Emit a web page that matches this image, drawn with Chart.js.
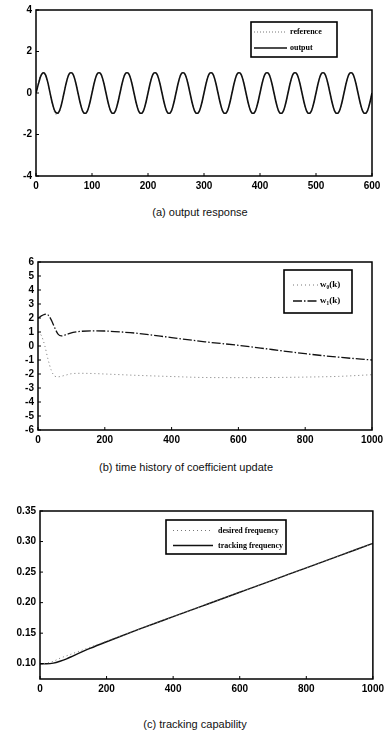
<!DOCTYPE html>
<html>
<head>
<meta charset="utf-8">
<script src="https://cdn.jsdelivr.net/npm/chart.js@4.4.1/dist/chart.umd.min.js"></script>
<style>
  body { margin: 0; background: #fff; }
  #wrap { position: relative; width: 388px; height: 738px; }
  canvas { position: absolute; left: 0; }
  .cap {
    position: absolute;
    font-family: "Liberation Sans", Arial, sans-serif;
    font-size: 11px;
    color: #111;
    white-space: nowrap;
    transform: translateX(-50%);
  }
</style>
</head>
<body>
<div id="wrap">
  <canvas id="c1" width="388" height="200" style="top:0"></canvas>
  <div class="cap" style="left:200px;top:206px">(a) output response</div>
  <canvas id="c2" width="388" height="200" style="top:250px"></canvas>
  <div class="cap" style="left:186px;top:461px">(b) time history of coefficient update</div>
  <canvas id="c3" width="388" height="200" style="top:500px"></canvas>
  <div class="cap" style="left:195px;top:718px">(c) tracking capability</div>
</div>
<script>
// (a) output response -------------------------------------------------
const k1 = [
  0, 5, 10, 15, 20, 25, 30, 35, 40, 45,
  50, 55, 60, 65, 70, 75, 80, 85, 90, 95,
  100, 105, 110, 115, 120, 125, 130, 135, 140, 145,
  150, 155, 160, 165, 170, 175, 180, 185, 190, 195,
  200, 205, 210, 215, 220, 225, 230, 235, 240, 245,
  250, 255, 260, 265, 270, 275, 280, 285, 290, 295,
  300, 305, 310, 315, 320, 325, 330, 335, 340, 345,
  350, 355, 360, 365, 370, 375, 380, 385, 390, 395,
  400, 405, 410, 415, 420, 425, 430, 435, 440, 445,
  450, 455, 460, 465, 470, 475, 480, 485, 490, 495,
  500, 505, 510, 515, 520, 525, 530, 535, 540, 545,
  550, 555, 560, 565, 570, 575, 580, 585, 590, 595,
  600
];
const reference1 = [
  0, 0.59, 0.95, 0.95, 0.59, 0, -0.62, -1.02, -1.0, -0.6,
  0, 0.59, 0.95, 0.95, 0.59, 0, -0.59, -0.95, -0.95, -0.59,
  0, 0.59, 0.95, 0.95, 0.59, 0, -0.59, -0.95, -0.95, -0.59,
  0, 0.59, 0.95, 0.95, 0.59, 0, -0.59, -0.95, -0.95, -0.59,
  0, 0.59, 0.95, 0.95, 0.59, 0, -0.59, -0.95, -0.95, -0.59,
  0, 0.59, 0.95, 0.95, 0.59, 0, -0.59, -0.95, -0.95, -0.59,
  0, 0.59, 0.95, 0.95, 0.59, 0, -0.59, -0.95, -0.95, -0.59,
  0, 0.59, 0.95, 0.95, 0.59, 0, -0.59, -0.95, -0.95, -0.59,
  0, 0.59, 0.95, 0.95, 0.59, 0, -0.59, -0.95, -0.95, -0.59,
  0, 0.59, 0.95, 0.95, 0.59, 0, -0.59, -0.95, -0.95, -0.59,
  0, 0.59, 0.95, 0.95, 0.59, 0, -0.59, -0.95, -0.95, -0.59,
  0, 0.59, 0.95, 0.95, 0.59, 0, -0.59, -0.95, -0.95, -0.59,
  0
];
const output1 = [
  0, 0.5, 0.9, 0.96, 0.62, 0.02, -0.57, -0.93, -0.95, -0.6,
  0, 0.59, 0.95, 0.95, 0.59, 0, -0.59, -0.95, -0.95, -0.59,
  0, 0.59, 0.95, 0.95, 0.59, 0, -0.59, -0.95, -0.95, -0.59,
  0, 0.59, 0.95, 0.95, 0.59, 0, -0.59, -0.95, -0.95, -0.59,
  0, 0.59, 0.95, 0.95, 0.59, 0, -0.59, -0.95, -0.95, -0.59,
  0, 0.59, 0.95, 0.95, 0.59, 0, -0.59, -0.95, -0.95, -0.59,
  0, 0.59, 0.95, 0.95, 0.59, 0, -0.59, -0.95, -0.95, -0.59,
  0, 0.59, 0.95, 0.95, 0.59, 0, -0.59, -0.95, -0.95, -0.59,
  0, 0.59, 0.95, 0.95, 0.59, 0, -0.59, -0.95, -0.95, -0.59,
  0, 0.59, 0.95, 0.95, 0.59, 0, -0.59, -0.95, -0.95, -0.59,
  0, 0.59, 0.95, 0.95, 0.59, 0, -0.59, -0.95, -0.95, -0.59,
  0, 0.59, 0.95, 0.95, 0.59, 0, -0.59, -0.95, -0.95, -0.59,
  0
];

// (b) coefficient update ---------------------------------------------
const kW0 = [0, 10, 20, 30, 40, 50, 60, 80, 100, 130, 170, 200, 300, 400, 500, 600, 700, 800, 900, 1000];
const w0 = [1.0, 0.75, 0.05, -0.95, -1.75, -2.15, -2.2, -2.1, -1.98, -1.95, -1.97, -2.0, -2.1, -2.18, -2.25, -2.26, -2.25, -2.22, -2.17, -2.05];
const kW1 = [0, 10, 20, 25, 30, 40, 50, 60, 70, 85, 105, 130, 160, 200, 250, 300, 400, 500, 600, 700, 800, 900, 1000];
const w1 = [1.98, 2.15, 2.26, 2.28, 2.22, 1.85, 1.3, 0.85, 0.72, 0.82, 0.97, 1.05, 1.08, 1.07, 1.0, 0.9, 0.6, 0.3, 0.05, -0.25, -0.55, -0.8, -1.0];

// (c) tracking capability --------------------------------------------
const k3 = [0, 20, 40, 60, 80, 100, 150, 200, 300, 400, 500, 600, 700, 800, 900, 1000];
const desired = [0.100, 0.101, 0.104, 0.109, 0.113, 0.117, 0.127, 0.137, 0.157, 0.177, 0.197, 0.217, 0.237, 0.257, 0.277, 0.297];
const tracking = [0.100, 0.100, 0.101, 0.104, 0.108, 0.113, 0.125, 0.136, 0.157, 0.177, 0.197, 0.217, 0.237, 0.257, 0.277, 0.297];

function pts(xs, ys) {
  return xs.map(function (x, i) { return { x: x, y: ys[i] }; });
}

const tickFont = { family: "Liberation Sans", size: 10, weight: "bold" };

// box around plot, inward ticks, and the boxed legend
const framePlugin = {
  id: "frame",
  afterDraw(chart, args, opts) {
    const ctx = chart.ctx;
    const a = chart.chartArea;
    ctx.save();
    ctx.strokeStyle = "#000";
    ctx.setLineDash([]);
    ctx.lineWidth = 1.5;
    ctx.strokeRect(a.left, a.top, a.right - a.left, a.bottom - a.top);
    ctx.lineWidth = 1;
    const xs = chart.scales.x, ys = chart.scales.y;
    xs.ticks.forEach(function (t) {
      const px = xs.getPixelForValue(t.value);
      ctx.beginPath(); ctx.moveTo(px, a.bottom); ctx.lineTo(px, a.bottom - 3); ctx.stroke();
    });
    ys.ticks.forEach(function (t) {
      const py = ys.getPixelForValue(t.value);
      ctx.beginPath(); ctx.moveTo(a.left, py); ctx.lineTo(a.left + 3, py); ctx.stroke();
    });

    const lg = opts.legend;
    if (lg) {
      ctx.fillStyle = "#fff";
      ctx.fillRect(lg.x, lg.y, lg.w, lg.h);
      ctx.lineWidth = 1.6;
      ctx.strokeRect(lg.x, lg.y, lg.w, lg.h);
      ctx.font = lg.font;
      ctx.textBaseline = "middle";
      chart.data.datasets.forEach(function (ds, i) {
        const y = lg.y + lg.row0 + i * lg.gap;
        ctx.strokeStyle = ds.borderColor;
        ctx.lineWidth = ds.borderWidth;
        ctx.setLineDash(ds.borderDash || []);
        ctx.beginPath();
        ctx.moveTo(lg.x + lg.lx, y);
        ctx.lineTo(lg.x + lg.lx + lg.len, y);
        ctx.stroke();
        ctx.setLineDash([]);
        ctx.fillStyle = "#000";
        ctx.fillText(ds.label, lg.x + lg.tx, y);
      });
    }
    ctx.restore();
  }
};

function makeChart(id, datasets, xMax, xStep, yMin, yMax, yStep, pad, yWidth, xHeight, legend, tension, yFmt) {
  return new Chart(document.getElementById(id), {
    type: "line",
    data: { datasets: datasets },
    plugins: [framePlugin],
    options: {
      responsive: false,
      animation: false,
      devicePixelRatio: 1,
      layout: { padding: pad },
      elements: { point: { radius: 0 }, line: { tension: tension } },
      plugins: { legend: { display: false }, tooltip: { enabled: false }, frame: { legend: legend } },
      scales: {
        x: {
          type: "linear", min: 0, max: xMax,
          grid: { display: false, drawTicks: false },
          border: { display: false },
          ticks: { stepSize: xStep, padding: 4, color: "#000", font: tickFont, maxRotation: 0,
                   callback: function (v) { return String(v); } },
          afterFit: function (s) { s.height = xHeight; }
        },
        y: {
          min: yMin, max: yMax,
          grid: { display: false, drawTicks: false },
          border: { display: false },
          ticks: { stepSize: yStep, padding: 4, color: "#000", font: tickFont, autoSkip: false,
                   includeBounds: false, callback: yFmt },
          afterFit: function (s) { s.width = yWidth; }
        }
      }
    }
  });
}

makeChart("c1", [
  { label: "reference", data: pts(k1, reference1), borderColor: "#777", borderWidth: 1, borderDash: [1, 2], order: 1 },
  { label: "output", data: pts(k1, output1), borderColor: "#111", borderWidth: 1.6, order: 0 }
], 600, 100, -4, 4, 2, { top: 10, right: 16, left: 0, bottom: 0 }, 36, 24,
  { x: 251, y: 22, w: 86, h: 35, row0: 10, gap: 16, lx: 3, len: 33, tx: 39, font: "bold 8px 'Liberation Serif'" },
  0.4, function (v) { return String(v); });

makeChart("c2", [
  { label: "w₀(k)", data: pts(kW0, w0), borderColor: "#777", borderWidth: 1, borderDash: [1, 3], cubicInterpolationMode: "monotone" },
  { label: "w₁(k)", data: pts(kW1, w1), borderColor: "#111", borderWidth: 1.3, borderDash: [9, 2, 1.5, 2], cubicInterpolationMode: "monotone" }
], 1000, 200, -6, 6, 1, { top: 12, right: 16, left: 0, bottom: 0 }, 38, 20,
  { x: 284, y: 20, w: 68, h: 43, row0: 15, gap: 16, lx: 9, len: 25, tx: 36, font: "bold 9px 'Liberation Serif'" },
  0.3, function (v) { return String(v); });

makeChart("c3", [
  { label: "desired frequency", data: pts(k3, desired), borderColor: "#777", borderWidth: 1, borderDash: [1, 3], cubicInterpolationMode: "monotone" },
  { label: "tracking frequency", data: pts(k3, tracking), borderColor: "#111", borderWidth: 1.4, cubicInterpolationMode: "monotone" }
], 1000, 200, 0.075, 0.35, 0.05, { top: 11, right: 11, left: 0, bottom: 0 }, 40, 21,
  { x: 166, y: 20, w: 120, h: 34, row0: 10.5, gap: 15, lx: 7, len: 40, tx: 52, font: "bold 8px 'Liberation Serif'" },
  0.3, function (v) { return v.toFixed(2); });
</script>
</body>
</html>
